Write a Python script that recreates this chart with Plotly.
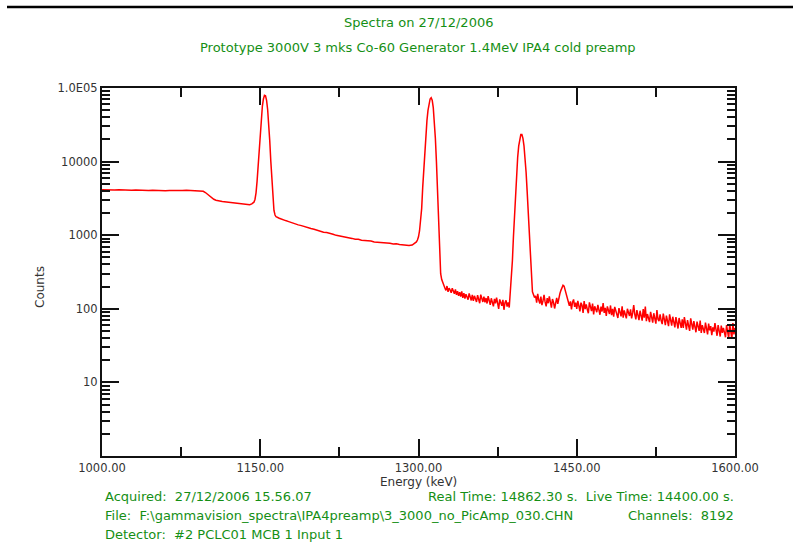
import plotly.graph_objects as go

# ---------------- data ----------------
# flat Compton continuum 1000-1096 keV (4 keV grid)
low_energy = list(range(1000, 1097, 4))
low_counts = [4150, 4120, 4160, 4100, 4130, 4090, 4120, 4080, 4110, 4060,
              4090, 4050, 4080, 4040, 4070, 4030, 4060, 4040, 4080, 4050,
              4090, 4060, 4080, 4030, 3950]

# Compton edge down to first peak
edge_energy = [1098, 1100, 1102, 1104, 1106, 1108, 1110, 1114, 1118, 1122,
               1126, 1130, 1134, 1138, 1140, 1142]
edge_counts = [3800, 3600, 3380, 3200, 3080, 2990, 2940, 2880, 2830, 2780,
               2730, 2680, 2620, 2590, 2600, 2660]

# first photopeak (~1155 keV)
peak1_energy = [1143, 1144, 1145, 1146, 1147, 1148, 1149, 1150, 1151, 1152,
                1153, 1154, 1155, 1156, 1157, 1158, 1159, 1160, 1161, 1162,
                1163, 1164, 1165]
peak1_counts = [2720, 2810, 3060, 3760, 5440, 9020, 15570, 26100, 40300, 56450,
                70950, 79550, 78500, 67900, 51000, 33400, 19300, 10150, 5250, 3000,
                2170, 1880, 1780]

# continuum between the two big peaks (3 keV grid)
mid_energy = list(range(1168, 1295, 3))
mid_counts = [1700, 1655, 1580, 1530, 1470, 1440, 1380, 1350, 1300, 1275,
              1230, 1205, 1160, 1140, 1100, 1085, 1045, 1030, 995, 980,
              950, 940, 915, 905, 880, 880, 855, 850, 830, 835,
              810, 805, 790, 792, 775, 778, 762, 765, 750, 742,
              728, 722, 735]

# second photopeak (~1312 keV)
peak2_energy = [1296, 1298, 1299, 1300, 1301, 1302, 1303, 1304, 1305, 1306,
                1307, 1308, 1309, 1310, 1311, 1312, 1313, 1314, 1315, 1316,
                1317, 1318, 1319, 1320, 1321, 1322]
peak2_counts = [765, 810, 860, 950, 1150, 1500, 2300, 4500, 8300, 14500,
                24000, 36000, 49500, 62000, 71000, 74000, 68500, 54000, 36000, 20600,
                10000, 4100, 1500, 420, 300, 250]

# noisy continuum 1323-1386 keV (1 keV grid)
noisy_a_energy = list(range(1323, 1387))
noisy_a_counts = [224, 200, 192, 178, 204, 170, 191, 180, 165, 190,
                  172, 160, 184, 155, 173, 150, 168, 146, 172, 141,
                  163, 138, 158, 147, 133, 162, 140, 130, 155, 128,
                  150, 137, 124, 153, 135, 119, 156, 131, 124, 146,
                  122, 140, 118, 149, 128, 113, 139, 124, 108, 136,
                  119, 142, 114, 100, 134, 123, 110, 132, 97, 121,
                  130, 107, 122, 104]

# third peak (~1398 keV)
peak3_energy = [1387, 1388, 1389, 1390, 1391, 1392, 1393, 1394, 1395, 1396,
                1397, 1398, 1399, 1400, 1401, 1402, 1403, 1404, 1405, 1406,
                1407, 1408]
peak3_counts = [165, 240, 450, 960, 1920, 3910, 7100, 11430, 16330, 20740,
                23350, 23350, 20740, 16330, 11430, 7100, 3910, 1920, 960, 450,
                240, 170]

# noisy tail 1410-1600 keV (1 keV grid), small bump near 1437 keV
noisy_b_energy = list(range(1410, 1601))
noisy_b_counts = [142, 150, 121, 160, 131, 118, 146, 112, 128, 155,
                  124, 108, 140, 119, 147, 113, 104, 136, 122, 101,
                  130, 141, 117, 146, 160, 178, 196, 209, 203, 181,
                  160, 142, 127, 110, 126, 98, 123, 134, 106, 121,
                  100, 128, 110, 92, 121, 112, 88, 127, 99, 115,
                  98, 87, 122, 106, 93, 118, 84, 108, 101, 90,
                  113, 96, 83, 107, 92, 120, 88, 103, 80, 108,
                  97, 85, 111, 82, 100, 78, 106, 93, 83, 75,
                  102, 88, 79, 108, 76, 95, 86, 74, 100, 87,
                  80, 98, 74, 88, 112, 84, 72, 96, 81, 70,
                  94, 79, 69, 99, 76, 107, 68, 85, 77, 66,
                  91, 73, 65, 87, 76, 63, 96, 72, 68, 84,
                  69, 62, 86, 75, 60, 81, 68, 58, 84, 66,
                  59, 78, 66, 56, 77, 64, 54, 75, 63, 55,
                  72, 55, 77, 62, 52, 70, 58, 50, 74, 57,
                  52, 68, 56, 48, 67, 55, 50, 69, 47, 60,
                  54, 47, 65, 52, 45, 63, 51, 58, 44, 56,
                  49, 64, 48, 43, 60, 52, 42, 59, 47, 55,
                  46, 41, 60, 50, 40, 62, 48, 39, 64, 45,
                  55]

x_tick_vals = [1000, 1150, 1300, 1450, 1600]
x_minor_vals = [1075, 1225, 1375, 1525]
y_tick_vals = [1, 10, 100, 1000, 10000, 100000]
y_tick_text = ["", "10", "100", "1000", "10000", "1.0E05"]

title_1 = "Spectra on 27/12/2006"
title_2 = "Prototype 3000V 3 mks Co-60 Generator 1.4MeV IPA4 cold preamp"
NB = "\u00a0"
info_left = [
    "Acquired:" + NB + NB + "27/12/2006 15.56.07",
    "File:" + NB + NB + "F:\\gammavision_spectra\\IPA4preamp\\3_3000_no_PicAmp_030.CHN",
    "Detector:" + NB + NB + "#2 PCLC01 MCB 1 Input 1",
]
info_right = [
    "Real Time: 14862.30 s." + NB + NB + "Live Time: 14400.00 s.",
    "Channels:" + NB + NB + "8192",
]

# ---------------- assemble ----------------
segments = [(low_energy, low_counts), (edge_energy, edge_counts),
            (peak1_energy, peak1_counts), (mid_energy, mid_counts),
            (peak2_energy, peak2_counts), (noisy_a_energy, noisy_a_counts),
            (peak3_energy, peak3_counts), (noisy_b_energy, noisy_b_counts)]
energy, counts = [], []
for e, c in segments:
    assert len(e) == len(c), (e[0], len(e), len(c))
    energy += list(e)
    counts += list(c)

W, H = 793, 555
L, R, T, B = 102, 735, 88, 456  # plot area in pixels


def px(xp):
    return (xp - L) / (R - L)


def py(yp):
    return (B - yp) / (B - T)


FONT = "DejaVu Sans, Verdana, sans-serif"
GREEN = "#158f15"
TXT = "#333333"

fig = go.Figure()
fig.add_trace(go.Scatter(x=energy, y=counts, mode="lines",
                         line=dict(color="#ff0000", width=1.5),
                         hoverinfo="x+y", showlegend=False))

axis_common = dict(showline=True, linewidth=2, linecolor="#111111", mirror="ticks",
                   ticks="inside", ticklen=17, tickwidth=1.5, tickcolor="#111111",
                   showgrid=False, zeroline=False,
                   tickfont=dict(family=FONT, size=11.5, color=TXT))

fig.update_xaxes(range=[1000, 1600], tickmode="array", tickvals=x_tick_vals,
                 ticktext=[f"{v:.2f}" for v in x_tick_vals],
                 minor=dict(tickmode="array", tickvals=x_minor_vals, ticks="inside",
                            ticklen=9, tickwidth=1.5, tickcolor="#111111", showgrid=False),
                 **axis_common)

y_minor = [m * 10 ** d for d in range(5) for m in range(2, 10)]
fig.update_yaxes(type="log", range=[0, 5], tickmode="array", tickvals=y_tick_vals,
                 ticktext=y_tick_text,
                 minor=dict(tickmode="array", tickvals=y_minor, ticks="inside",
                            ticklen=8, tickwidth=1.5, tickcolor="#111111", showgrid=False),
                 **axis_common)

ann = []
ann.append(dict(text=title_1, x=px(418), y=py(22), font=dict(color=GREEN, size=13)))
ann.append(dict(text=title_2, x=px(418), y=py(48), font=dict(color=GREEN, size=13)))
ann.append(dict(text="Energy (keV)", x=px(418), y=py(482), font=dict(color=TXT, size=12)))
ann.append(dict(text="Counts", x=px(40), y=py(287), textangle=-90,
                font=dict(color=TXT, size=12)))
for i, t in enumerate(info_left):
    ann.append(dict(text=t, x=px(103), y=py(497 + 18.5 * i), xanchor="left",
                    font=dict(color=GREEN, size=13)))
for i, t in enumerate(info_right):
    ann.append(dict(text=t, x=px(736), y=py(497 + 18.5 * i), xanchor="right",
                    font=dict(color=GREEN, size=13)))
for a in ann:
    a.setdefault("xanchor", "center")
    a.update(xref="paper", yref="paper", yanchor="middle", showarrow=False)
    a["font"]["family"] = FONT

fig.update_layout(
    width=W, height=H,
    margin=dict(l=L, r=W - R, t=T, b=H - B, pad=0),
    paper_bgcolor="white", plot_bgcolor="white",
    annotations=ann,
    shapes=[dict(type="line", xref="paper", yref="paper",
                 x0=px(7), x1=px(793), y0=py(7), y1=py(7),
                 line=dict(color="black", width=2.5))],
)

fig.write_html("out.html")
